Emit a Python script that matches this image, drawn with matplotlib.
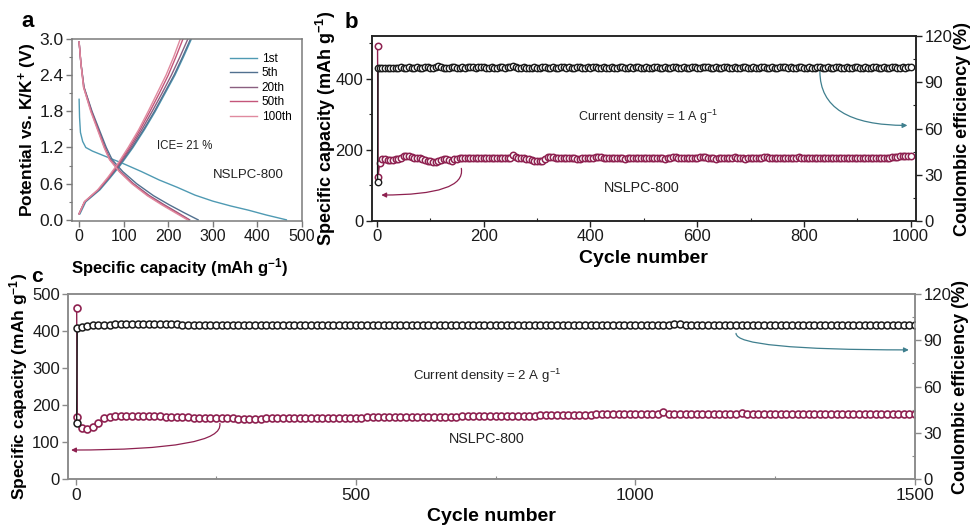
import matplotlib
matplotlib.use('Agg')
import matplotlib.pyplot as plt
from matplotlib.patches import FancyArrowPatch
from matplotlib.ticker import MultipleLocator

plt.rcParams['font.family'] = ['Liberation Sans', 'DejaVu Sans']
plt.rcParams['mathtext.fontset'] = 'custom'
plt.rcParams['mathtext.rm'] = 'Liberation Sans'
plt.rcParams['mathtext.bf'] = 'Liberation Sans:bold'
plt.rcParams['mathtext.default'] = 'rm'

# ---------------- panel a: charge / discharge profiles ----------------
cycles_a = ['1st', '5th', '20th', '50th', '100th']
colors_a = ['#4f9ab3', '#51708f', '#8a5f80', '#c4557a', '#e08a9f']

# first discharge has its own shape
dis1_cap = [0, 1, 3, 8, 15, 30, 60, 100, 140, 180, 220, 260, 300, 340, 380, 420, 465]
dis1_v = [2.0, 1.7, 1.45, 1.3, 1.2, 1.14, 1.05, 0.93, 0.8, 0.66, 0.54, 0.41, 0.31, 0.23, 0.16, 0.08, 0.0]

# later discharges share a voltage grid
dis_v = [2.95, 2.6, 2.2, 1.8, 1.5, 1.2, 1.0, 0.8, 0.6, 0.4, 0.25, 0.12, 0.0]
dis5_cap = [0, 4, 11, 29, 45, 61, 74, 98, 129, 167, 202, 235, 267]
dis20_cap = [0, 4, 11, 28, 43, 58, 70, 93, 122, 158, 191, 221, 248]
dis50_cap = [0, 4, 10, 27, 42, 57, 69, 91, 120, 155, 188, 218, 246]
dis100_cap = [0, 4, 10, 26, 41, 56, 68, 90, 118, 153, 185, 215, 243]

# charge curves
chg_v = [0.1, 0.3, 0.5, 0.7, 0.9, 1.2, 1.5, 1.8, 2.1, 2.4, 2.7, 3.0]
chg1_cap = [2, 15, 47, 70, 92, 121, 147, 171, 193, 215, 234, 252]
chg5_cap = [0, 13, 45, 68, 90, 119, 145, 169, 191, 213, 232, 250]
chg20_cap = [0, 13, 44, 67, 88, 116, 141, 164, 186, 207, 226, 244]
chg50_cap = [0, 12, 43, 66, 86, 113, 137, 159, 180, 200, 217, 233]
chg100_cap = [0, 12, 42, 64, 84, 110, 134, 155, 175, 195, 212, 227]

# ---------------- panel b: 1 A/g cycling ----------------
cycle_b = [1, 2] + list(range(5, 1001, 5))
cap_b = [491, 125,
         163, 174, 173, 172, 172, 172, 173, 174, 178, 183, 184, 182, 180, 178, 177, 176, 174, 172, 170, 168,
         166, 165, 168, 171, 173, 174, 172, 170, 173, 175, 176, 177, 177, 176, 176, 177, 177, 178, 178, 178,
         177, 176, 176, 177, 177, 176, 176, 176, 177, 177, 186, 181, 178, 176, 176, 175, 174, 172, 170, 169,
         168, 170, 174, 180, 181, 179, 177, 177, 176, 176, 176, 177, 177, 176, 175, 175, 176, 176, 177, 177,
         178, 180, 181, 180, 178, 177, 176, 176, 177, 177, 176, 176, 175, 176, 177, 177, 178, 177, 176, 176,
         176, 177, 177, 178, 177, 176, 176, 175, 176, 177, 179, 180, 178, 177, 176, 176, 177, 177, 176, 176,
         179, 181, 179, 177, 176, 176, 175, 176, 177, 177, 176, 176, 178, 180, 178, 177, 176, 175, 176, 177,
         177, 176, 176, 177, 179, 180, 178, 177, 176, 176, 176, 177, 177, 176, 176, 177, 178, 180, 178, 177,
         176, 176, 177, 177, 176, 176, 177, 177, 176, 176, 177, 177, 178, 177, 176, 176, 177, 177, 176, 176,
         177, 178, 177, 176, 176, 177, 177, 178, 178, 177, 178, 178, 179, 180, 181, 182, 182, 183, 183, 182]
ce_b = [25.4, 99.2,
        99.3, 99.4, 99.4, 99.5, 99.5, 99.4, 99.5, 99.5, 99.6, 99.5, 99.5, 99.6, 99.5, 99.5, 99.6, 99.5, 99.5, 99.6, 99.6, 99.5,
        99.5, 99.6, 100.3, 99.8, 99.5, 99.4, 99.5, 99.6, 99.6, 99.5, 99.5, 99.6, 99.5, 99.6, 99.7, 99.6, 99.5, 99.6, 100.2, 99.7,
        99.5, 99.5, 99.6, 99.5, 99.5, 99.6, 99.6, 99.5, 99.6, 99.7, 100.3, 99.8, 99.5, 99.5, 99.6, 99.5, 99.4, 99.5, 99.6, 99.5,
        99.5, 99.6, 99.6, 99.5, 99.5, 99.6, 99.5, 99.5, 100.1, 99.7, 99.5, 99.6, 99.5, 99.5, 99.6, 99.6, 99.5, 99.5, 99.6, 99.5,
        99.6, 99.6, 99.5, 99.5, 99.6, 99.5, 99.5, 99.6, 99.5, 99.5, 99.6, 99.6, 99.5, 99.5, 99.6, 99.5, 99.6, 99.6, 99.5, 99.5,
        99.6, 99.5, 99.5, 99.6, 99.6, 99.5, 99.5, 99.6, 99.5, 99.5, 99.6, 99.6, 99.5, 99.5, 99.6, 99.5, 99.5, 99.6, 99.6, 99.5,
        99.5, 99.6, 100.2, 99.7, 99.5, 99.5, 99.6, 99.5, 99.5, 99.6, 99.6, 99.5, 99.5, 99.6, 99.5, 99.5, 99.6, 99.6, 99.5, 99.5,
        99.6, 99.5, 99.5, 99.6, 99.6, 99.5, 99.5, 99.6, 99.5, 99.5, 99.6, 100.1, 99.7, 99.5, 99.6, 99.5, 99.5, 99.6, 99.6, 99.5,
        99.5, 99.6, 99.5, 99.5, 99.6, 99.6, 99.5, 99.5, 99.6, 99.5, 99.5, 99.6, 99.6, 99.5, 99.5, 99.6, 99.5, 99.5, 99.6, 99.6,
        99.5, 99.5, 99.6, 99.5, 99.5, 99.6, 99.6, 99.5, 99.5, 99.6, 99.5, 99.5, 99.6, 99.6, 99.5, 99.5, 99.6, 99.5, 99.6, 99.6]

# ---------------- panel c: 2 A/g cycling ----------------
cycle_c = [1, 2] + list(range(10, 1501, 10))
cap_c = [461, 169,
         138, 136, 140, 152, 165, 169, 170, 171, 171, 172, 172, 171, 171, 170, 170, 169, 168, 168, 167, 167,
         166, 166, 166, 165, 165, 165, 165, 165, 164, 164, 164, 164, 164, 165, 165, 165, 165, 165, 165, 165,
         165, 165, 165, 166, 166, 166, 166, 166, 166, 166, 166, 167, 167, 167, 167, 167, 167, 168, 168, 168,
         168, 168, 168, 169, 169, 169, 169, 169, 170, 170, 170, 170, 170, 171, 171, 171, 171, 171, 172, 172,
         172, 172, 173, 173, 173, 173, 173, 174, 174, 174, 174, 174, 175, 175, 175, 175, 175, 175, 176, 176,
         176, 176, 176, 176, 182, 176, 175, 175, 175, 176, 176, 176, 176, 176, 177, 177, 177, 177, 178, 177,
         176, 176, 176, 176, 176, 176, 176, 176, 176, 176, 176, 177, 177, 177, 177, 177, 177, 177, 177, 177,
         177, 177, 177, 177, 177, 177, 177, 176, 176, 176]
ce_c = [36.2, 98.0,
        98.6, 99.3, 99.6, 99.8, 99.9, 100.2, 100.3, 100.4, 100.5, 100.6, 100.6, 100.6, 100.7, 100.6, 100.5, 100.4, 100.3, 100.3, 100.2, 100.2,
        100.1, 100.1, 100.1, 100.0, 100.0, 100.0, 100.0, 100.0, 99.9, 99.9, 99.9, 99.9, 99.9, 99.9, 99.9, 99.9, 99.9, 99.9, 99.9, 99.9,
        99.9, 99.9, 99.9, 99.9, 99.9, 99.9, 99.9, 99.9, 99.9, 99.9, 99.9, 99.9, 99.9, 99.9, 99.9, 99.9, 99.9, 99.9, 99.9, 99.9,
        99.9, 99.9, 99.9, 99.9, 99.9, 99.9, 99.9, 99.9, 99.9, 99.9, 100.1, 99.9, 99.9, 99.9, 99.9, 99.9, 99.9, 99.9, 99.9, 99.9,
        99.9, 99.9, 99.9, 99.9, 99.9, 99.9, 99.9, 99.9, 99.9, 99.9, 99.9, 99.9, 99.9, 99.9, 99.9, 99.9, 99.9, 99.9, 99.9, 99.9,
        99.9, 99.9, 99.9, 99.9, 99.9, 99.9, 100.4, 100.3, 100.2, 100.1, 100.0, 100.0, 100.0, 99.9, 99.9, 99.9, 99.9, 99.9, 99.9, 99.9,
        99.9, 99.9, 99.9, 99.9, 99.9, 99.9, 99.9, 99.9, 99.9, 99.9, 99.9, 99.9, 99.9, 99.9, 99.9, 99.9, 99.9, 99.9, 99.9, 99.9,
        99.9, 99.9, 99.9, 99.9, 99.9, 99.9, 99.9, 99.9, 99.9, 99.9]

maroon = '#8e2150'
black = '#1a1a1a'
teal = '#3f7f8e'


def style_axis(ax, spine_color):
    for s in ax.spines.values():
        s.set_color(spine_color)
        s.set_linewidth(1.1)
    ax.tick_params(which='major', direction='out', length=4, width=1.0,
                   color=spine_color, labelcolor='#1a1a1a', labelsize=12, pad=2)
    ax.tick_params(which='minor', direction='in', length=2.5, width=0.8, color=spine_color)


def curved_arrow(ax, start, end, color, angle_a):
    arr = FancyArrowPatch(start, end, arrowstyle='-|>', mutation_scale=7,
                          connectionstyle='angle3,angleA=%d,angleB=0' % angle_a,
                          color=color, lw=0.9, shrinkA=0, shrinkB=0)
    ax.add_patch(arr)


fig = plt.figure(figsize=(9.74, 5.28), dpi=100)

# ---- a ----
ax_a = fig.add_axes([0.0739, 0.5814, 0.2361, 0.3447])
dis_caps = [dis1_cap, dis5_cap, dis20_cap, dis50_cap, dis100_cap]
chg_caps = [chg1_cap, chg5_cap, chg20_cap, chg50_cap, chg100_cap]
for i, lab in enumerate(cycles_a):
    v_dis = dis1_v if i == 0 else dis_v
    ax_a.plot(dis_caps[i], v_dis, color=colors_a[i], lw=1.0, label=lab)
    ax_a.plot(chg_caps[i], chg_v, color=colors_a[i], lw=1.0)
ax_a.set_xlim(-16, 500)
ax_a.set_ylim(-0.02, 3.0)
ax_a.xaxis.set_major_locator(MultipleLocator(100))
ax_a.yaxis.set_major_locator(MultipleLocator(0.6))
ax_a.yaxis.set_minor_locator(MultipleLocator(0.3))
ax_a.yaxis.set_major_formatter(plt.FormatStrFormatter('%.1f'))
style_axis(ax_a, '#7a7a7a')
ax_a.tick_params(axis='y', which='minor', direction='out', length=2.5)
ax_a.tick_params(axis='y', which='major', labelsize=12.5)
ax_a.tick_params(axis='x', which='major', labelsize=11.5)
ax_a.set_xlabel('Specific capacity (mAh g$^{\\mathbf{-1}}$)', fontsize=12, fontweight='bold')
ax_a.xaxis.set_label_coords(0.47, -0.19)
ax_a.set_ylabel('Potential vs. K/K$^{\\mathbf{+}}$ (V)', fontsize=12.5, fontweight='bold')
ax_a.yaxis.set_label_coords(-0.145, 0.5)
ax_a.legend(loc='upper right', bbox_to_anchor=(0.955, 0.925), frameon=False, fontsize=8.5,
            handlelength=2.3, labelspacing=0.22, handletextpad=0.4, borderaxespad=0, borderpad=0)
ax_a.text(174, 1.23, 'ICE= 21 %', fontsize=8.3, ha='left', va='center', color='#222222')
ax_a.text(380, 0.75, 'NSLPC-800', fontsize=9.5, ha='center', va='center', color='#222222')

# ---- b ----
ax_b = fig.add_axes([0.3816, 0.5814, 0.5588, 0.3504])
ax_b2 = ax_b.twinx()
ax_b.plot(cycle_b, cap_b, '-o', color=maroon, mfc='white', mec=maroon, ms=4.6, mew=1.1, lw=1.0)
ax_b2.plot(cycle_b, ce_b, '-o', color=black, mfc='white', mec=black, ms=4.6, mew=1.0, lw=1.0)
ax_b.set_xlim(-10, 1010)
ax_b.set_ylim(0, 520)
ax_b2.set_ylim(0, 120)
ax_b.xaxis.set_major_locator(MultipleLocator(200))
ax_b.xaxis.set_minor_locator(MultipleLocator(100))
ax_b.yaxis.set_major_locator(MultipleLocator(200))
ax_b.yaxis.set_minor_locator(MultipleLocator(100))
ax_b2.yaxis.set_major_locator(MultipleLocator(30))
ax_b2.yaxis.set_minor_locator(MultipleLocator(15))
style_axis(ax_b, '#222222')
style_axis(ax_b2, '#222222')
ax_b.tick_params(axis='y', which='minor', direction='out')
ax_b.set_xlabel('Cycle number', fontsize=14, fontweight='bold')
ax_b.xaxis.set_label_coords(0.5, -0.155)
ax_b.set_ylabel('Specific capacity (mAh g$^{\\mathbf{-1}}$)', fontsize=13, fontweight='bold')
ax_b.yaxis.set_label_coords(-0.062, 0.5)
ax_b2.set_ylabel('Coulombic efficiency (%)', fontsize=13, fontweight='bold')
ax_b2.yaxis.set_label_coords(1.07, 0.5)
ax_b.text(376, 294, 'Current density = 1 A g$^{-1}$', fontsize=9, ha='left', va='center', color='#222222')
ax_b.text(497, 94, 'NSLPC-800', fontsize=10.3, ha='center', va='center', color='#222222')
curved_arrow(ax_b, (158, 148), (8, 73), maroon, -80)
curved_arrow(ax_b2, (830, 97), (994, 62), teal, 90)

# ---- c ----
ax_c = fig.add_axes([0.0701, 0.0922, 0.8693, 0.351])
ax_c2 = ax_c.twinx()
ax_c.plot(cycle_c, cap_c, '-o', color=maroon, mfc='white', mec=maroon, ms=5.0, mew=1.2, lw=1.0)
ax_c2.plot(cycle_c, ce_c, '-o', color=black, mfc='white', mec=black, ms=5.0, mew=1.1, lw=1.0)
ax_c.set_xlim(-14, 1500)
ax_c.set_ylim(0, 500)
ax_c2.set_ylim(0, 120)
ax_c.xaxis.set_major_locator(MultipleLocator(500))
ax_c.xaxis.set_minor_locator(MultipleLocator(250))
ax_c.yaxis.set_major_locator(MultipleLocator(100))
ax_c2.yaxis.set_major_locator(MultipleLocator(30))
ax_c2.yaxis.set_minor_locator(MultipleLocator(15))
style_axis(ax_c, '#8a8a8a')
style_axis(ax_c2, '#8a8a8a')
ax_c.tick_params(axis='x', which='major', labelsize=12.5)
ax_c.set_xlabel('Cycle number', fontsize=14, fontweight='bold')
ax_c.xaxis.set_label_coords(0.5, -0.155)
ax_c.set_ylabel('Specific capacity (mAh g$^{\\mathbf{-1}}$)', fontsize=12.5, fontweight='bold')
ax_c.yaxis.set_label_coords(-0.045, 0.5)
ax_c2.set_ylabel('Coulombic efficiency (%)', fontsize=13, fontweight='bold')
ax_c2.yaxis.set_label_coords(1.044, 0.5)
ax_c.text(735, 279, 'Current density = 2 A g$^{-1}$', fontsize=9.5, ha='center', va='center', color='#222222')
ax_c.text(734, 108, 'NSLPC-800', fontsize=10.3, ha='center', va='center', color='#222222')
curved_arrow(ax_c, (257, 151), (-9, 79), maroon, -80)
curved_arrow(ax_c2, (1180, 94.5), (1489, 83.8), teal, 90)

# panel letters
fig.text(0.028, 0.96, 'a', fontsize=16, fontweight='bold', ha='center', va='center')
fig.text(0.361, 0.957, 'b', fontsize=16, fontweight='bold', ha='center', va='center')
fig.text(0.038, 0.476, 'c', fontsize=15, fontweight='bold', ha='center', va='center')

fig.savefig('out.png', dpi=100)
plt.close(fig)
